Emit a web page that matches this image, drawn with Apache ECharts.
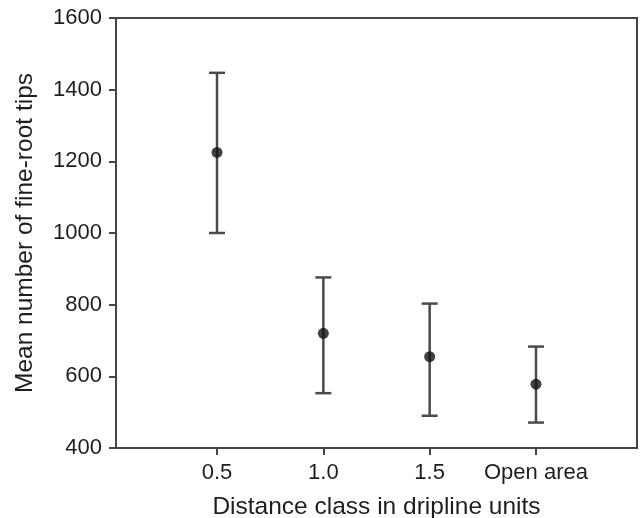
<!DOCTYPE html>
<html>
<head>
<meta charset="utf-8">
<script src="https://cdn.jsdelivr.net/npm/echarts@6/dist/echarts.min.js"></script>
<style>
  html, body { margin: 0; padding: 0; background: #fff; }
  #chart { width: 641px; height: 518px; }
</style>
</head>
<body>
<div id="chart"></div>
<script>
// distance classes and the values
var categories = ['0.5', '1.0', '1.5', 'Open area'];
var means = [1225, 720, 655, 578];
var upper = [1447, 876, 803, 683];
var lower = [1000, 553, 490, 471];
var yTicks = [400, 600, 800, 1000, 1200, 1400, 1600];

var positions = categories.map(function (c, i) { return i + 1; });
var pointData = means.map(function (v, i) { return [positions[i], v]; });
var barData = means.map(function (v, i) { return [positions[i], lower[i], upper[i]]; });

var axisColor = '#454545';
var textColor = '#1e1e1e';
var font = 'Liberation Sans, Arial, sans-serif';

var myChart = echarts.init(document.getElementById('chart'));
var option = {
  animation: false,
  grid: {
    left: 116,
    right: 4,
    top: 18,
    bottom: 70,
    outerBoundsMode: 'none',
    containLabel: false,
    show: true,
    borderColor: axisColor,
    borderWidth: 2
  },
  xAxis: {
    type: 'value',
    min: 0.05,
    max: 4.95,
    name: 'Distance class in dripline units',
    nameLocation: 'middle',
    nameGap: 47,
    nameTextStyle: { color: textColor, fontSize: 24.5, fontFamily: font },
    axisLine: { lineStyle: { color: axisColor, width: 2 } },
    axisTick: {
      customValues: positions,
      length: 7,
      lineStyle: { color: axisColor, width: 2 }
    },
    axisLabel: {
      customValues: positions,
      margin: 14,
      color: textColor,
      fontSize: 22,
      fontFamily: font,
      formatter: function (v) { return categories[Math.round(v) - 1] || ''; }
    },
    splitLine: { show: false }
  },
  yAxis: {
    type: 'value',
    min: yTicks[0],
    max: yTicks[yTicks.length - 1],
    interval: 200,
    name: 'Mean number of fine-root tips',
    nameLocation: 'middle',
    nameGap: 78,
    nameTextStyle: { color: textColor, fontSize: 24.5, fontFamily: font },
    axisLine: { show: true, lineStyle: { color: axisColor, width: 2 } },
    axisTick: { show: true, length: 7, lineStyle: { color: axisColor, width: 2 } },
    axisLabel: {
      margin: 14,
      color: textColor,
      fontSize: 22,
      fontFamily: font,
      formatter: function (v) { return String(v); }
    },
    splitLine: { show: false }
  },
  series: [
    {
      // error bars with caps
      type: 'custom',
      data: barData,
      z: 2,
      renderItem: function (params, api) {
        var x = api.value(0);
        var lo = api.coord([x, api.value(1)]);
        var hi = api.coord([x, api.value(2)]);
        var cap = 8;
        var style = { stroke: '#4a4a4a', lineWidth: 2.5 };
        return {
          type: 'group',
          children: [
            { type: 'line', shape: { x1: lo[0], y1: lo[1], x2: hi[0], y2: hi[1] }, style: style },
            { type: 'line', shape: { x1: hi[0] - cap, y1: hi[1], x2: hi[0] + cap, y2: hi[1] }, style: style },
            { type: 'line', shape: { x1: lo[0] - cap, y1: lo[1], x2: lo[0] + cap, y2: lo[1] }, style: style }
          ]
        };
      }
    },
    {
      type: 'scatter',
      data: pointData,
      z: 3,
      symbol: 'circle',
      symbolSize: 11,
      itemStyle: { color: '#111' }
    }
  ]
};
myChart.setOption(option);
</script>
</body>
</html>
